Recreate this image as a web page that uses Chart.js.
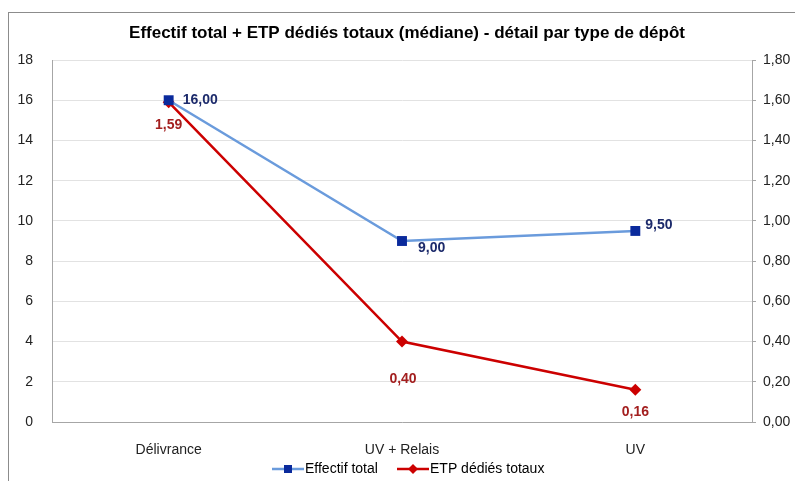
<!DOCTYPE html>
<html>
<head>
<meta charset="utf-8">
<script src="https://cdn.jsdelivr.net/npm/chart.js@4.4.1/dist/chart.umd.min.js"></script>
<style>
  html, body { margin: 0; padding: 0; background: #fff; }
  #wrap { width: 795px; height: 481px; position: relative; }
</style>
</head>
<body>
<div id="wrap"><canvas id="chart" width="795" height="481"></canvas></div>
<script>
const categories = ['Délivrance', 'UV + Relais', 'UV'];
const effectifTotal = [16, 9, 9.5];
const etpDedies = [1.59, 0.40, 0.16];
const leftTicks = [0, 2, 4, 6, 8, 10, 12, 14, 16, 18];
const rightTicks = [0, 0.2, 0.4, 0.6, 0.8, 1.0, 1.2, 1.4, 1.6, 1.8];
const chartTitle = 'Effectif total + ETP dédiés totaux (médiane) - détail par type de dépôt';

const FONT = "'Liberation Sans', Arial, sans-serif";
const fmt = v => v.toFixed(2).replace('.', ',');

// legend swatch: line with marker in the middle
function swatch(lineColor, markerColor, shape) {
  const c = document.createElement('canvas');
  c.width = 32; c.height = 12;
  const g = c.getContext('2d');
  g.strokeStyle = lineColor; g.lineWidth = 2.5;
  g.beginPath(); g.moveTo(0, 6); g.lineTo(32, 6); g.stroke();
  g.fillStyle = markerColor;
  if (shape === 'rect') {
    g.fillRect(12, 2, 8, 8);
  } else {
    g.beginPath(); g.moveTo(16, 1); g.lineTo(21, 6); g.lineTo(16, 11); g.lineTo(11, 6); g.closePath(); g.fill();
  }
  return c;
}

const decorPlugin = {
  id: 'decor',
  beforeDraw(chart) {
    const ctx = chart.ctx;
    ctx.save();
    ctx.strokeStyle = '#8c8c8c';
    ctx.lineWidth = 1;
    ctx.strokeRect(8.5, 12.5, 900, 600);
    ctx.fillStyle = '#000';
    ctx.font = 'bold 17px ' + FONT;
    ctx.textAlign = 'center';
    ctx.textBaseline = 'middle';
    ctx.fillText(chartTitle, 407, 33);
    ctx.restore();
  },
  afterDatasetsDraw(chart) {
    const ctx = chart.ctx;
    ctx.save();
    ctx.font = 'bold 14px ' + FONT;
    ctx.textBaseline = 'middle';
    chart.data.datasets.forEach((ds, i) => {
      const meta = chart.getDatasetMeta(i);
      meta.data.forEach((pt, j) => {
        const off = ds.labelOffsets[j];
        ctx.fillStyle = ds.labelColor;
        ctx.textAlign = off[2];
        ctx.fillText(fmt(ds.data[j]), pt.x + off[0], pt.y + off[1]);
      });
    });
    // legend
    const items = [
      { img: swatch('#6a9bdc', '#0a2a9c', 'rect'), text: 'Effectif total', x: 272 },
      { img: swatch('#cc0000', '#cc0000', 'rot'), text: 'ETP dédiés totaux', x: 397 }
    ];
    ctx.font = '14px ' + FONT;
    ctx.fillStyle = '#000';
    ctx.textAlign = 'left';
    items.forEach(it => {
      ctx.drawImage(it.img, it.x, 463);
      ctx.fillText(it.text, it.x + 33, 469);
    });
    ctx.restore();
  }
};

new Chart(document.getElementById('chart'), {
  type: 'line',
  data: {
    labels: categories,
    datasets: [
      {
        label: 'Effectif total',
        data: effectifTotal,
        yAxisID: 'y',
        borderColor: '#6a9bdc',
        backgroundColor: '#0a2a9c',
        borderWidth: 2.5,
        pointStyle: 'rect',
        pointRadius: 7,
        pointBorderWidth: 0,
        pointBackgroundColor: '#0a2a9c',
        tension: 0,
        labelColor: '#1c2a6b',
        labelOffsets: [[14, 0, 'left'], [16, 7, 'left'], [10, -6, 'left']]
      },
      {
        label: 'ETP dédiés totaux',
        data: etpDedies,
        yAxisID: 'y2',
        borderColor: '#cc0000',
        backgroundColor: '#cc0000',
        borderWidth: 2.5,
        pointStyle: 'rectRot',
        pointRadius: 6,
        pointBorderWidth: 0,
        pointBackgroundColor: '#cc0000',
        tension: 0,
        labelColor: '#a31f1f',
        labelOffsets: [[0, 23, 'center'], [1, 38, 'center'], [0, 22, 'center']]
      }
    ]
  },
  options: {
    responsive: false,
    animation: false,
    layout: { padding: { top: 60, left: 0, right: 0, bottom: 0 } },
    plugins: {
      legend: { display: false },
      title: { display: false },
      tooltip: { enabled: false }
    },
    scales: {
      x: {
        offset: true,
        grid: { display: false },
        border: { display: true, color: '#a6a6a6' },
        ticks: { color: '#222', font: { family: FONT, size: 14 }, padding: 12 },
        afterFit(s) { s.height = 59; }
      },
      y: {
        position: 'left',
        min: 0, max: 18,
        afterBuildTicks(s) { s.ticks = leftTicks.map(v => ({ value: v })); },
        grid: { color: '#e2e2e2', drawTicks: false },
        border: { display: true, color: '#a6a6a6' },
        ticks: { color: '#222', font: { family: FONT, size: 14 }, padding: 19 },
        afterFit(s) { s.width = 52; }
      },
      y2: {
        position: 'right',
        min: 0, max: 1.8,
        afterBuildTicks(s) { s.ticks = rightTicks.map(v => ({ value: v })); },
        grid: { drawOnChartArea: false, drawTicks: true, tickLength: 4, color: '#a6a6a6' },
        border: { display: true, color: '#a6a6a6' },
        ticks: { color: '#222', font: { family: FONT, size: 14 }, padding: 7, callback: v => fmt(v) },
        afterFit(s) { s.width = 43; }
      }
    }
  },
  plugins: [decorPlugin]
});
</script>
</body>
</html>
